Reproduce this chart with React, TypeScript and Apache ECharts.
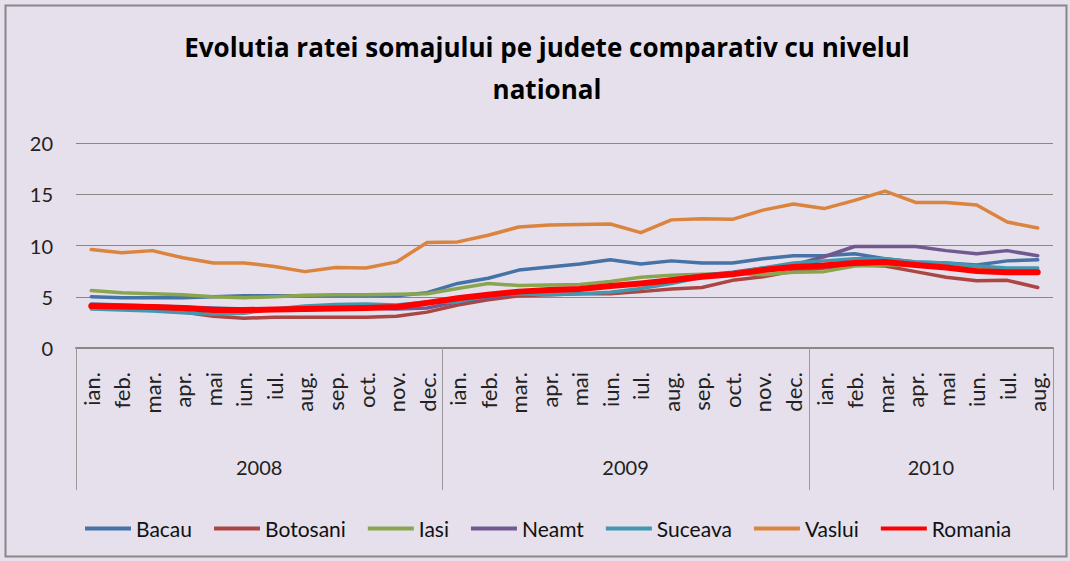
import React, { useEffect, useRef } from "react";
import * as echarts from "echarts";

const months = ["ian.", "feb.", "mar.", "apr.", "mai", "iun.", "iul.", "aug.", "sep.", "oct.", "nov.", "dec."];
const years = ["2008", "2009", "2010"];
const monthsPerYear = [12, 12, 8];

const bacau = [5.0, 4.9, 4.9, 4.9, 5.0, 5.1, 5.1, 5.1, 5.1, 5.1, 5.1, 5.4, 6.3, 6.8, 7.6, 7.9, 8.2, 8.6, 8.2, 8.5, 8.3, 8.3, 8.7, 9.0, 9.0, 9.2, 8.7, 8.4, 8.3, 8.1, 8.5, 8.6];
const botosani = [4.0, 3.9, 3.7, 3.5, 3.1, 2.9, 3.0, 3.0, 3.0, 3.0, 3.1, 3.5, 4.2, 4.7, 5.1, 5.2, 5.3, 5.3, 5.5, 5.75, 5.9, 6.6, 6.95, 7.5, 7.8, 8.1, 8.0, 7.45, 6.9, 6.55, 6.6, 5.9];
const iasi = [5.6, 5.4, 5.3, 5.2, 5.0, 4.9, 5.0, 5.15, 5.2, 5.2, 5.25, 5.3, 5.8, 6.3, 6.1, 6.15, 6.2, 6.5, 6.9, 7.1, 7.2, 7.3, 7.15, 7.4, 7.45, 8.0, 8.1, 8.1, 7.95, 7.8, 7.7, 7.6];
const neamt = [4.3, 4.2, 4.1, 4.0, 3.9, 3.8, 3.8, 3.8, 3.9, 3.9, 3.8, 3.9, 4.5, 4.9, 5.3, 5.5, 5.7, 6.0, 6.3, 6.7, 7.1, 7.4, 7.8, 8.1, 8.9, 9.9, 9.9, 9.9, 9.5, 9.2, 9.5, 9.0];
const suceava = [3.8, 3.7, 3.6, 3.45, 3.3, 3.4, 3.8, 4.1, 4.25, 4.3, 4.2, 4.5, 4.5, 5.1, 5.3, 5.2, 5.3, 5.45, 5.8, 6.3, 6.9, 7.3, 7.8, 8.3, 8.5, 8.7, 8.7, 8.4, 8.3, 8.0, 7.8, 7.8];
const vaslui = [9.6, 9.3, 9.5, 8.8, 8.3, 8.3, 7.95, 7.45, 7.85, 7.8, 8.4, 10.3, 10.35, 11.0, 11.8, 12.0, 12.05, 12.1, 11.25, 12.5, 12.6, 12.55, 13.45, 14.05, 13.6, 14.4, 15.3, 14.2, 14.2, 13.95, 12.3, 11.7];
const romania = [4.1, 4.05, 4.0, 3.9, 3.7, 3.7, 3.75, 3.8, 3.85, 3.9, 4.0, 4.4, 4.85, 5.2, 5.5, 5.65, 5.75, 6.05, 6.3, 6.6, 6.95, 7.2, 7.6, 7.9, 8.05, 8.3, 8.4, 8.1, 7.85, 7.5, 7.4, 7.4];

const seriesDefs = [
  { name: "Bacau", data: bacau, color: "#4572A7", width: 3.5 },
  { name: "Botosani", data: botosani, color: "#AA4643", width: 3.5 },
  { name: "Iasi", data: iasi, color: "#89A54E", width: 3.5 },
  { name: "Neamt", data: neamt, color: "#71588F", width: 3.5 },
  { name: "Suceava", data: suceava, color: "#4198AF", width: 3.5 },
  { name: "Vaslui", data: vaslui, color: "#DB843D", width: 3.5 },
  { name: "Romania", data: romania, color: "#FF0000", width: 6 },
];

const FONT = "Lato, 'Noto Sans', sans-serif";
const TITLE_FONT = "'Open Sans', Lato, sans-serif";

export default function App() {
  const ref = useRef<HTMLDivElement>(null);
  useEffect(() => {
    document.body.style.margin = "0";
    if (!ref.current) return;
    const chart = echarts.init(ref.current, undefined, { renderer: "svg" });

    const monthCats: string[] = [];
    monthsPerYear.forEach((n) => {
      for (let i = 0; i < n; i++) monthCats.push(months[i]);
    });
    const total = monthCats.length;
    const yearCats: string[] = new Array(total + 1).fill("");
    const boundaries = new Set<number>([0]);
    let start = 0;
    monthsPerYear.forEach((n, k) => {
      const mid = start + n / 2;
      if (Number.isInteger(mid)) yearCats[mid] = years[k];
      start += n;
      boundaries.add(start);
    });

    chart.setOption({
      animation: false,
      backgroundColor: "#E5E0EC",
      title: {
        text: "Evolutia ratei somajului pe judete comparativ cu nivelul\nnational",
        left: 542,
        top: 21,
        textAlign: "center",
        textStyle: {
          fontFamily: TITLE_FONT,
          fontWeight: "bold",
          fontSize: 26,
          lineHeight: 42,
          color: "#000",
        },
      },
      graphic: [
        {
          type: "rect",
          shape: { x: 5.5, y: 5.5, width: 1061, height: 551 },
          style: { fill: "none", stroke: "#888", lineWidth: 2 },
          silent: true,
        },
      ],
      legend: {
        top: 513,
        left: 80,
        icon: "rect",
        itemWidth: 46,
        itemHeight: 4,
        itemGap: 22,
        textStyle: { fontFamily: FONT, fontSize: 21, color: "#111" },
        data: seriesDefs.map((s) => s.name),
      },
      grid: { left: 76, right: 17, top: 143, bottom: 213, containLabel: false },
      xAxis: [
        {
          type: "category",
          data: monthCats,
          boundaryGap: true,
          axisLine: { show: true, lineStyle: { color: "#888", width: 2 } },
          axisTick: { show: false },
          axisLabel: {
            interval: 0,
            rotate: 90,
            margin: 24,
            fontFamily: FONT,
            fontSize: 22,
            color: "#222",
          },
        },
        {
          type: "category",
          data: yearCats,
          boundaryGap: false,
          position: "bottom",
          axisLine: { show: false },
          axisTick: {
            show: true,
            length: 142,
            interval: (i: number) => boundaries.has(i),
            lineStyle: { color: "#999", width: 1 },
          },
          axisLabel: {
            interval: 0,
            margin: 109,
            fontFamily: FONT,
            fontSize: 20,
            color: "#222",
          },
        },
      ],
      yAxis: {
        type: "value",
        min: 0,
        max: 20,
        interval: 5,
        axisLine: { show: false },
        axisTick: { show: false },
        splitLine: { lineStyle: { color: "#888", width: 1 } },
        axisLabel: { margin: 23, fontFamily: FONT, fontSize: 20, color: "#222" },
      },
      series: seriesDefs.map((s) => ({
        name: s.name,
        type: "line",
        data: s.data,
        xAxisIndex: 0,
        symbol: "none",
        smooth: false,
        itemStyle: { color: s.color },
        lineStyle: { color: s.color, width: s.width, cap: "round", join: "round" },
      })),
    });
    return () => chart.dispose();
  }, []);
  return <div ref={ref} style={{ width: 1070, height: 561 }} />;
}
